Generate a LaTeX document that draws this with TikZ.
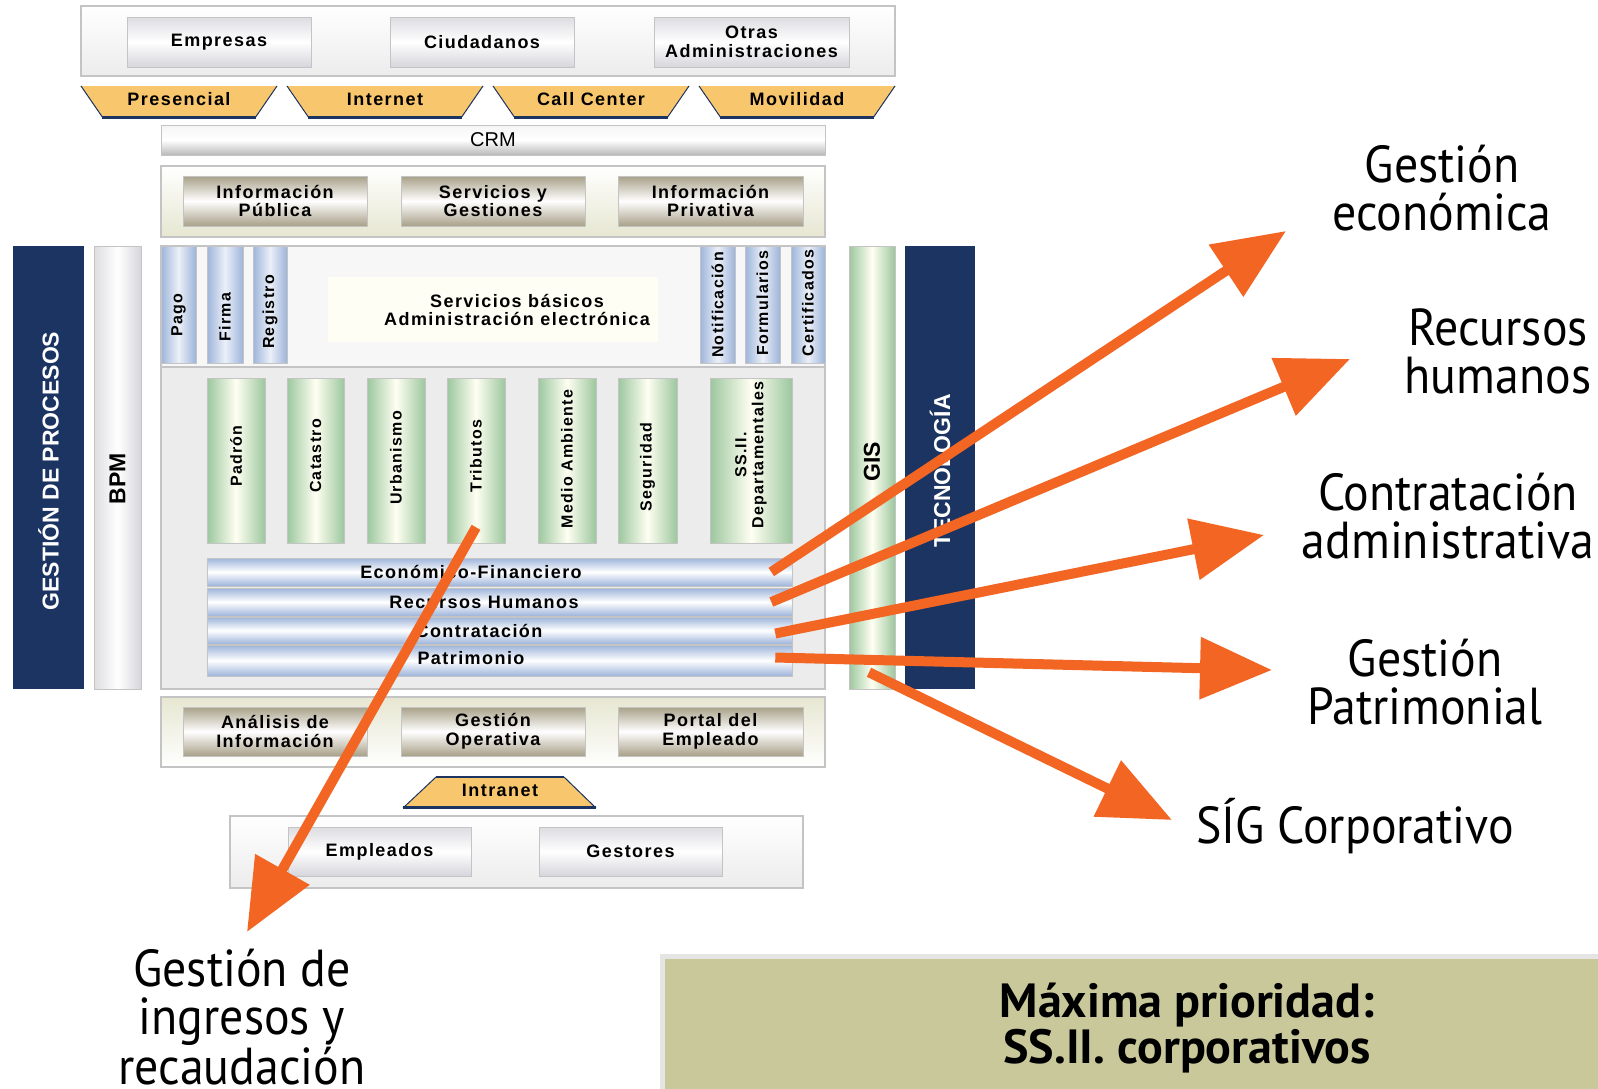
\documentclass[tikz,border=0pt]{standalone}
\usepackage{fontspec}
\setmainfont{Liberation Sans}
\newfontfamily\boxfont[LetterSpace=8]{Liberation Sans}
\newfontfamily\bigfont[FakeStretch=0.92]{PT Sans}
\newfontfamily\priofont{PT Sans}
\usetikzlibrary{arrows.meta}

\definecolor{navy}{HTML}{1C3461}
\definecolor{arrorange}{HTML}{F26522}
\definecolor{chanyellow}{HTML}{F8C66C}
\definecolor{olivebg}{HTML}{C8C89A}
\definecolor{framegray}{HTML}{C4C4C4}
\definecolor{panelgray}{HTML}{ECECEC}
\definecolor{barblue}{HTML}{9DB4DA}
\definecolor{bargreen}{HTML}{9CC79E}
\definecolor{tanshade}{HTML}{A8A088}

\tikzstyle{panel} = [draw=framegray, line width=1.2pt, top color=white, bottom color=panelgray]
\tikzstyle{yelpanel} = [draw=framegray, line width=1.2pt, top color=white, bottom color=olivebg!45]
\tikzstyle{lowpanel} = [draw=framegray, line width=1.2pt, top color=olivebg!45, bottom color=white]
\tikzstyle{lbl} = [font=\boxfont\bfseries\fontsize{18}{18.5}\selectfont, align=center, inner sep=0pt]
\tikzstyle{actor} = [lbl, draw=framegray, line width=1pt, top color=blue!8!gray!25, bottom color=blue!8!gray!30, middle color=white]
\tikzstyle{tanbox} = [lbl, draw=framegray, line width=1pt, top color=tanshade, bottom color=tanshade, middle color=white]
\tikzstyle{vbluebar} = [draw=framegray, line width=0.6pt, left color=barblue, right color=barblue, middle color=white!80!barblue]
\tikzstyle{hbluebar} = [draw=framegray, line width=0.6pt, top color=barblue, bottom color=barblue, middle color=white]
\tikzstyle{greenbar} = [draw=framegray, line width=0.6pt, left color=bargreen, right color=bargreen, middle color=yellow!5!white]
\tikzstyle{darkband} = [fill=navy]
\tikzstyle{vtxt} = [font=\boxfont\bfseries\fontsize{16}{17}\selectfont, rotate=90, align=center, inner sep=0pt]
\tikzstyle{sidetxt} = [font=\bfseries\fontsize{23}{24}\selectfont, rotate=90, inner sep=0pt]
\tikzstyle{big} = [font=\bigfont\fontsize{52}{48}\selectfont, align=center, inner sep=0pt]
\tikzstyle{bigarrow} = [arrorange, line width=10pt, -{Triangle[length=72pt,width=60pt]}]

% channel trapezoid: name, left x, right x, text
\newcommand{\chanshape}[4]{
  \fill[chanyellow] (#2,86) -- (#3,86) -- (#3-22,118) -- (#2+22,118) -- cycle;
  \draw[navy, line width=1pt] (#2,86) -- (#2+22,118);
  \draw[navy, line width=1pt] (#3,86) -- (#3-22,118);
  \draw[navy, line width=3pt] (#2+21,117) -- (#3-21,117);
  \node[lbl] (#1) at ({(#2+#3)/2},99) {#4};
}

\begin{document}
\begin{tikzpicture}[x=1pt, y=-1pt]
\useasboundingbox[fill=white] (0,0) rectangle (1598,1088);

% clients
\node[panel, minimum width=814, minimum height=70] (clients) at (488,41) {};
\node[actor, minimum width=184, minimum height=50] (empresas) at (219,42) {Empresas};
\node[actor, minimum width=184, minimum height=50] (ciudadanos) at (482,42) {Ciudadanos};
\node[actor, minimum width=195, minimum height=50] (otras) at (751.5,42) {Otras\\Administraciones};

% channels
\chanshape{presencial}{81}{277}{Presencial}
\chanshape{internet}{287}{483}{Internet}
\chanshape{callc}{493}{689}{Call Center}
\chanshape{movil}{699}{895}{Movilidad}

\node[draw=framegray, top color=gray!8, bottom color=gray!55, middle color=white, minimum width=664, minimum height=30, font=\fontsize{20}{21}\selectfont] (crm) at (493,140) {CRM};

% information
\node[yelpanel, minimum width=664, minimum height=71] (infoband) at (493,201.5) {};
\node[tanbox, minimum width=184, minimum height=50] (infpub) at (275,201) {Información\\Pública};
\node[tanbox, minimum width=184, minimum height=50] (servges) at (493,201) {Servicios y\\Gestiones};
\node[tanbox, minimum width=185, minimum height=50] (infpriv) at (710.5,201) {Información\\Privativa};

% left side
\node[darkband, minimum width=71, minimum height=443] (gproc) at (48.5,467.5) {};
\node[sidetxt, white] (gprocLbl) at (48.5,471) {GESTIÓN DE PROCESOS};
\node[draw=framegray, left color=blue!6!gray!25, right color=blue!6!gray!30, middle color=white, minimum width=47, minimum height=443] (bpm) at (117.5,467.5) {};
\node[sidetxt] (bpmLbl) at (117.5,479) {BPM};

% core
\node[draw=framegray, line width=1.2pt, fill=panelgray, minimum width=664, minimum height=443] (core) at (493,467.5) {};
\node[draw=framegray, line width=1.2pt, fill=gray!6, minimum width=664, minimum height=121] (basic) at (493,306.5) {};
\node[fill=yellow!4!white, minimum width=330, minimum height=65] (basicIn) at (493,309.5) {};
\node[lbl] (basicLbl) at (517,310) {Servicios básicos\\Administración electrónica};

\node[vbluebar, minimum width=35, minimum height=117] (pago) at (178.5,304.5) {};
\node[vbluebar, minimum width=36, minimum height=117] (firma) at (225,304.5) {};
\node[vbluebar, minimum width=34, minimum height=117] (registro) at (270,304.5) {};
\node[vbluebar, minimum width=35, minimum height=117] (notif) at (717.5,304.5) {};
\node[vbluebar, minimum width=35, minimum height=117] (formul) at (762.5,304.5) {};
\node[vbluebar, minimum width=34, minimum height=117] (certif) at (808,304.5) {};
\node[vtxt] (pagoLbl) at (178.5,315) {Pago};
\node[vtxt] (firmaLbl) at (225,317) {Firma};
\node[vtxt] (registroLbl) at (270,312) {Registro};
\node[vtxt] (notifLbl) at (717.5,305) {Notificación};
\node[vtxt] (formulLbl) at (762.5,303) {Formularios};
\node[vtxt] (certifLbl) at (808,303) {Certificados};

\node[greenbar, minimum width=58, minimum height=165] (padron) at (236,460.5) {};
\node[greenbar, minimum width=57, minimum height=165] (catastro) at (315.5,460.5) {};
\node[greenbar, minimum width=58, minimum height=165] (urban) at (396,460.5) {};
\node[greenbar, minimum width=58, minimum height=165] (trib) at (476,460.5) {};
\node[greenbar, minimum width=58, minimum height=165] (medio) at (567,460.5) {};
\node[greenbar, minimum width=59, minimum height=165] (segur) at (647.5,460.5) {};
\node[greenbar, minimum width=82, minimum height=165] (ssdep) at (751,460.5) {};
\node[vtxt] (padronLbl) at (236,456) {Padrón};
\node[vtxt] (catastroLbl) at (315.5,456) {Catastro};
\node[vtxt] (urbanLbl) at (396,458) {Urbanismo};
\node[vtxt] (tribLbl) at (476,456) {Tributos};
\node[vtxt] (medioLbl) at (567,459) {Medio Ambiente};
\node[vtxt] (segurLbl) at (647.5,467) {Seguridad};
\node[vtxt] (ssdepLbl) at (751,455) {SS.II.\\Departamentales};

\node[hbluebar, minimum width=585, minimum height=28] (eco) at (499.5,572) {};
\node[hbluebar, minimum width=585, minimum height=28] (rrhh) at (499.5,602) {};
\node[hbluebar, minimum width=585, minimum height=27] (contr) at (499.5,630.5) {};
\node[hbluebar, minimum width=585, minimum height=31] (patri) at (499.5,660.5) {};
\node[lbl] (ecoLbl) at (471,572) {Económico-Financiero};
\node[lbl] (rrhhLbl) at (484,602) {Recursos Humanos};
\node[lbl] (contrLbl) at (479,631) {Contratación};
\node[lbl] (patriLbl) at (471,658) {Patrimonio};

% right side
\node[greenbar, minimum width=46, minimum height=443] (gis) at (872,467.5) {};
\node[sidetxt] (gisLbl) at (872,462) {GIS};
\node[darkband, minimum width=70, minimum height=443] (tecno) at (940,467.5) {};
\node[sidetxt, white] (tecnoLbl) at (940,471) {TECNOLOGÍA};

% internal
\node[lowpanel, minimum width=664, minimum height=70] (intband) at (493,732) {};
\node[tanbox, minimum width=184, minimum height=49] (analisis) at (275,731.5) {Análisis de\\Información};
\node[tanbox, minimum width=184, minimum height=49] (gesop) at (493,731.5) {Gestión\\Operativa};
\node[tanbox, minimum width=185, minimum height=49] (portal) at (710.5,731.5) {Portal del\\Empleado};

\fill[chanyellow] (403,808) -- (436,777) -- (564,777) -- (596,808) -- cycle;
\draw[navy, line width=1pt] (403,808) -- (436,777) (564,777) -- (596,808);
\draw[navy, line width=2pt] (436,777) -- (564,777);
\draw[navy, line width=3pt] (403,807) -- (596,807);
\node[lbl] (intranet) at (500,790) {Intranet};

\node[panel, minimum width=573, minimum height=72] (users) at (516.5,852) {};
\node[actor, minimum width=183, minimum height=49] (empleados) at (379.5,851.5) {Empleados};
\node[actor, minimum width=183, minimum height=49] (gestores) at (630.5,851.5) {Gestores};

% priority
\node[fill=olivebg, draw=gray!20, line width=5pt, minimum width=1050, minimum height=144, font=\priofont\bfseries\fontsize{48}{46}\selectfont, align=center] (prio) at (1187,1028) {Máxima prioridad:\\SS.II. corporativos};

% targets
\node[big] (geco) at (1442,188) {Gestión\\económica};
\node[big] (grrhh) at (1498,351) {Recursos\\humanos};
\node[big] (gcontr) at (1448,516) {Contratación\\administrativa};
\node[big] (gpatri) at (1425,682) {Gestión\\Patrimonial};
\node[big] (gsig) at (1355,826) {SÍG Corporativo};
\node[big] (gingr) at (242,1017) {Gestión de\\ingresos y\\recaudación};

\coordinate (ecoTip) at (1286,231);
\coordinate (rrhhTip) at (1350,359);
\coordinate (contrTip) at (1264,535);
\coordinate (patriTip) at (1272,670);
\coordinate (sigTip) at (1172,820);
\coordinate (ingrTip) at (247,932);

\draw[bigarrow] ([xshift=-21pt]eco.east) -- (ecoTip);
\draw[bigarrow] ([xshift=-21pt]rrhh.east) -- (rrhhTip);
\draw[bigarrow] ([xshift=-17pt, yshift=-3pt]contr.east) -- (contrTip);
\draw[bigarrow] ([xshift=-17pt, yshift=3pt]patri.east) -- (patriTip);
\draw[bigarrow] ([xshift=-3pt, yshift=17pt]gis.south) -- (sigTip);
\draw[bigarrow] ([yshift=16pt]trib.south) -- (ingrTip);
\end{tikzpicture}
\end{document}
